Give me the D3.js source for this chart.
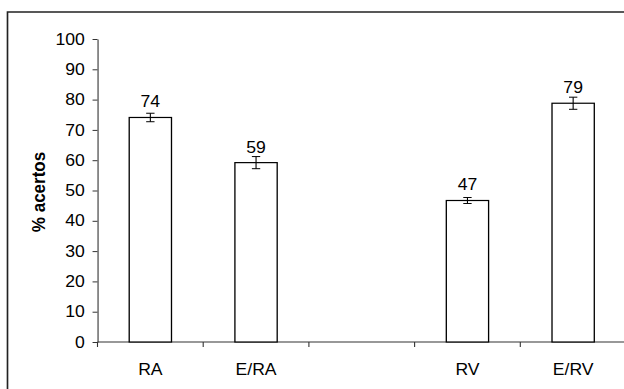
<!DOCTYPE html>
<html>
<head>
<meta charset="utf-8">
<script src="https://cdn.jsdelivr.net/npm/d3@7"></script>
<style>
  html, body { margin: 0; padding: 0; background: #fff; }
  svg { display: block; }
  text { font-family: "Liberation Sans", Arial, sans-serif; fill: #000; }
</style>
</head>
<body>
<div id="chart"></div>
<script>
var categories = ["RA", "E/RA", "", "RV", "E/RV"];
var values = [74.1, 59.2, null, 46.7, 78.8];
var errors = [1.4, 2.0, null, 1.0, 2.0];
var yTicks = [0, 10, 20, 30, 40, 50, 60, 70, 80, 90, 100];

var width = 624, height = 389;
// the original picture is stretched a bit sideways
var sx = 1.1, vw = width / sx;

var svg = d3.select("#chart").append("svg")
    .attr("width", width)
    .attr("height", height)
    .attr("viewBox", "0 0 " + vw + " " + height)
    .attr("preserveAspectRatio", "none");

svg.append("rect")
    .attr("x", 7.5 / sx).attr("y", 12)
    .attr("width", 700).attr("height", 500)
    .attr("fill", "none")
    .attr("stroke", "#222")
    .attr("stroke-width", 1.5);

var x = d3.scaleBand()
    .domain(d3.range(categories.length))
    .range([97.5 / sx, 626 / sx])
    .paddingInner(0.6)
    .paddingOuter(0.3);

var y = d3.scaleLinear().domain([0, 100]).range([342, 39]);

var yAxis = svg.append("g")
    .attr("transform", "translate(" + x.range()[0] + ",0)")
    .call(d3.axisLeft(y).tickValues(yTicks).tickSize(4.5).tickSizeOuter(0).tickPadding(7));
yAxis.select(".domain").attr("stroke", "#333");
yAxis.selectAll(".tick line").attr("stroke", "#333");
yAxis.selectAll("text").attr("font-size", 16).attr("font-family", null).attr("fill", "#000");

// x axis line and ticks between categories
var xg = svg.append("g");
xg.append("line")
    .attr("x1", x.range()[0]).attr("x2", x.range()[1])
    .attr("y1", y(0)).attr("y2", y(0))
    .attr("stroke", "#333");
xg.selectAll(".xt")
    .data(d3.range(categories.length))
    .enter().append("line")
    .attr("class", "xt")
    .attr("x1", function(i) { return x.range()[0] + i * x.step(); })
    .attr("x2", function(i) { return x.range()[0] + i * x.step(); })
    .attr("y1", y(0)).attr("y2", y(0) + 5)
    .attr("stroke", "#333");

xg.selectAll(".xl")
    .data(categories)
    .enter().append("text")
    .attr("class", "xl")
    .attr("x", function(d, i) { return x(i) + x.bandwidth() / 2; })
    .attr("y", 375)
    .attr("text-anchor", "middle")
    .attr("font-size", 16)
    .text(function(d) { return d; });

var idx = d3.range(categories.length).filter(function(i) { return values[i] != null; });

svg.selectAll(".bar")
    .data(idx)
    .enter().append("rect")
    .attr("class", "bar")
    .attr("x", function(i) { return x(i); })
    .attr("y", function(i) { return y(values[i]); })
    .attr("width", x.bandwidth())
    .attr("height", function(i) { return y(0) - y(values[i]); })
    .attr("fill", "#fff")
    .attr("stroke", "#000")
    .attr("stroke-width", 1.2);

var err = svg.selectAll(".err")
    .data(idx)
    .enter().append("g")
    .attr("class", "err")
    .attr("stroke", "#000");
err.append("line")
    .attr("x1", function(i) { return x(i) + x.bandwidth() / 2; })
    .attr("x2", function(i) { return x(i) + x.bandwidth() / 2; })
    .attr("y1", function(i) { return y(values[i] + errors[i]); })
    .attr("y2", function(i) { return y(values[i] - errors[i]); });
err.selectAll(".cap")
    .data(function(i) { return [[i, 1], [i, -1]]; })
    .enter().append("line")
    .attr("x1", function(d) { return x(d[0]) + x.bandwidth() / 2 - 3.8; })
    .attr("x2", function(d) { return x(d[0]) + x.bandwidth() / 2 + 3.8; })
    .attr("y1", function(d) { return y(values[d[0]] + d[1] * errors[d[0]]); })
    .attr("y2", function(d) { return y(values[d[0]] + d[1] * errors[d[0]]); });

svg.selectAll(".val")
    .data(idx)
    .enter().append("text")
    .attr("class", "val")
    .attr("x", function(i) { return x(i) + x.bandwidth() / 2; })
    .attr("y", function(i) { return y(values[i]) - 10; })
    .attr("text-anchor", "middle")
    .attr("font-size", 16)
    .text(function(i) { return d3.format(".0f")(values[i]); });

svg.append("text")
    .attr("transform", "translate(" + (44.5 / sx) + ",192) rotate(-90)")
    .attr("text-anchor", "middle")
    .attr("font-size", 17)
    .attr("font-weight", "bold")
    .text("% acertos");
</script>
</body>
</html>
